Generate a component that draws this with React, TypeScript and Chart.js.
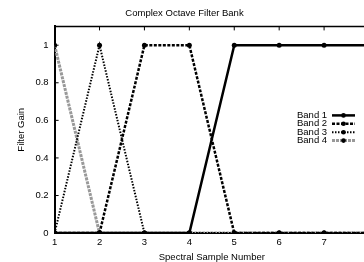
import React, { useEffect, useRef } from "react";
import { Chart, registerables } from "chart.js";

Chart.register(...registerables);

const samples = [1, 2, 3, 4, 5, 6, 7, 8];
const band1 = [0, 0, 0, 0, 1, 1, 1, 1];
const band2 = [0, 0, 1, 1, 0, 0, 0, 0];
const band3 = [0, 1, 0, 0, 0, 0, 0, 0];
const band4 = [1, 0, 0, 0, 0, 0, 0, 0];
const bandNames = ["Band 1", "Band 2", "Band 3", "Band 4"];
const yTickValues = [0, 0.2, 0.4, 0.6, 0.8, 1];
const yTickLabels = ["0", "0.2", "0.4", "0.6", "0.8", "1"];

const FONT = "'Liberation Sans', Arial, Helvetica, sans-serif";

const boxPlugin = {
  id: "boxTicks",
  afterDatasetsDraw(chart: any) {
    const { ctx, chartArea, scales } = chart;
    const xs = scales.x;
    const ys = scales.y;
    ctx.save();
    ctx.strokeStyle = "#000";
    ctx.lineWidth = 1.5;
    ctx.beginPath();
    ctx.moveTo(chartArea.left, chartArea.top);
    ctx.lineTo(chartArea.right, chartArea.top);
    ctx.stroke();
    ctx.lineWidth = 1;
    xs.ticks.forEach((t: any) => {
      const px = xs.getPixelForValue(t.value);
      ctx.beginPath();
      ctx.moveTo(px, chartArea.top);
      ctx.lineTo(px, chartArea.top + 4);
      ctx.stroke();
    });
    ys.ticks.forEach((t: any) => {
      const py = ys.getPixelForValue(t.value);
      ctx.beginPath();
      ctx.moveTo(chartArea.left, py);
      ctx.lineTo(chartArea.left + 4, py);
      ctx.stroke();
    });
    ctx.restore();
  },
  afterDraw(chart: any) {
    const { ctx, chartArea } = chart;
    ctx.save();
    ctx.font = `9.5px ${FONT}`;
    ctx.textBaseline = "middle";
    ctx.textAlign = "left";
    chart.data.datasets.forEach((ds: any, i: number) => {
      const y = chartArea.top + 89 + i * 8.4;
      const tx = chartArea.right - 72;
      ctx.fillStyle = "#000";
      ctx.fillText(ds.label, tx, y);
      const x0 = chartArea.right - 37;
      const x1 = chartArea.right - 14;
      ctx.strokeStyle = ds.borderColor;
      ctx.lineWidth = ds.borderWidth;
      ctx.setLineDash(ds.borderDash || []);
      ctx.beginPath();
      ctx.moveTo(x0, y);
      ctx.lineTo(x1, y);
      ctx.stroke();
      ctx.setLineDash([]);
      ctx.fillStyle = "#000";
      ctx.beginPath();
      ctx.arc((x0 + x1) / 2, y, 2.3, 0, Math.PI * 2);
      ctx.fill();
    });
    ctx.restore();
  },
};

export default function App() {
  const ref = useRef<HTMLCanvasElement>(null);
  useEffect(() => {
    document.body.style.margin = "0";
    const mk = (vals: number[]) => samples.map((s, i) => ({ x: s, y: vals[i] }));
    const common = {
      pointRadius: 2.5,
      pointBackgroundColor: "#000",
      pointBorderWidth: 0,
      fill: false,
      tension: 0,
    };
    const chart = new Chart(ref.current as HTMLCanvasElement, {
      type: "line",
      data: {
        datasets: [
          { label: bandNames[0], data: mk(band1), borderColor: "#000", borderWidth: 2.5, borderDash: [], ...common },
          { label: bandNames[1], data: mk(band2), borderColor: "#000", borderWidth: 2.5, borderDash: [3, 1.5], ...common },
          { label: bandNames[2], data: mk(band3), borderColor: "#000", borderWidth: 2, borderDash: [1.5, 1.5], ...common },
          { label: bandNames[3], data: mk(band4), borderColor: "#999", borderWidth: 3, borderDash: [3, 1], ...common },
        ],
      },
      options: {
        responsive: false,
        animation: false,
        layout: { padding: { left: 0, right: 51, top: 0, bottom: 0 } },
        plugins: {
          legend: { display: false },
          tooltip: { enabled: false },
          title: {
            display: true,
            text: "Complex Octave Filter Bank",
            color: "#000",
            font: { family: FONT, size: 9.5, weight: "normal" },
            padding: { top: 8, bottom: 7 },
          },
        },
        scales: {
          x: {
            type: "linear",
            min: 1,
            max: 8,
            grid: { display: false, drawTicks: false },
            border: { display: true, color: "#000", width: 2 },
            ticks: { stepSize: 1, padding: 4, color: "#000", font: { family: FONT, size: 9.5 } },
            title: {
              display: true,
              text: "Spectral Sample Number",
              color: "#000",
              font: { family: FONT, size: 9.5, lineHeight: 1 },
              padding: { top: 0, bottom: 0 },
            },
          },
          y: {
            type: "linear",
            min: 0,
            max: 1.1,
            grid: { display: false, drawTicks: false },
            border: { display: true, color: "#000", width: 2 },
            afterBuildTicks: (scale: any) => {
              scale.ticks = yTickValues.map((v) => ({ value: v }));
            },
            ticks: {
              padding: 6,
              color: "#000",
              font: { family: FONT, size: 9.5 },
              callback: (v: any) => {
                const idx = yTickValues.indexOf(Number(v));
                return idx >= 0 ? yTickLabels[idx] : "";
              },
            },
            title: {
              display: true,
              text: "Filter Gain",
              color: "#000",
              font: { family: FONT, size: 9.5 },
              padding: { top: 16, bottom: 2 },
            },
          },
        },
      },
      plugins: [boxPlugin],
    });
    return () => chart.destroy();
  }, []);
  return (
    <div style={{ width: 364, height: 262, overflow: "hidden", position: "relative", background: "#fff" }}>
      <canvas ref={ref} width={420} height={262} style={{ width: 420, height: 262, display: "block" }} />
    </div>
  );
}
